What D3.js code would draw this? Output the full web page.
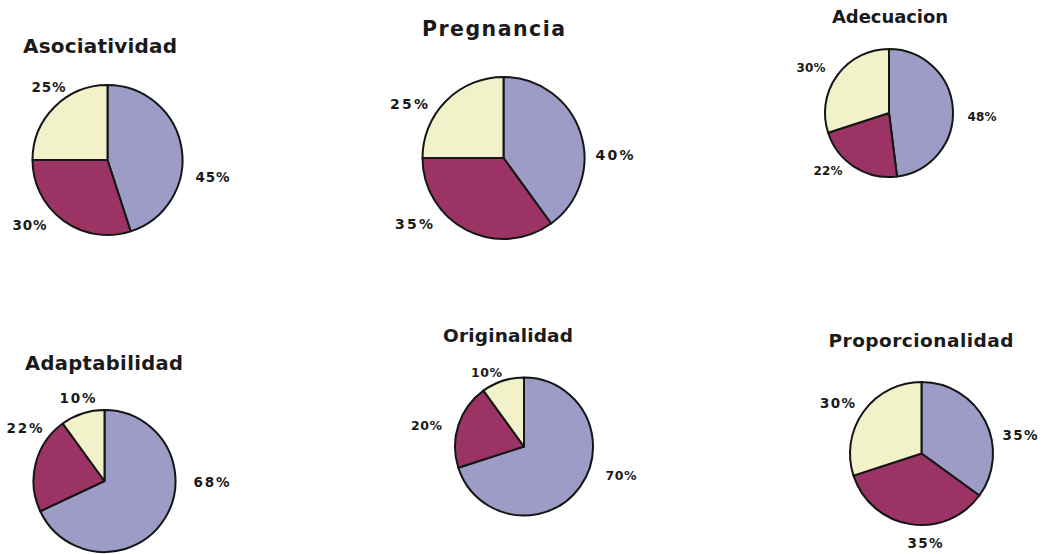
<!DOCTYPE html>
<html>
<head>
<meta charset="utf-8">
<script src="https://cdn.jsdelivr.net/npm/d3@7"></script>
<style>
  body { margin: 0; background: #fff; }
  text { font-family: "DejaVu Sans", "Open Sans", sans-serif; font-weight: 700; fill: #1a1a1a; }
</style>
</head>
<body>
<div id="chart"></div>
<script>
var svgWidth = 1043;
var svgHeight = 554;

// chart data
var titles = ["Asociatividad", "Pregnancia", "Adecuacion", "Adaptabilidad", "Originalidad", "Proporcionalidad"];
var blueValues = [45, 40, 48, 68, 70, 35];   // first slice, clockwise from 12 o'clock
var maroonValues = [30, 35, 22, 22, 20, 35];
var yellowValues = [25, 25, 30, 10, 10, 30];
var sliceColors = ["#9c9cc6", "#9b3365", "#f2f2ca"];

// layout for each small pie: centre, radius, title place/size/width, label size/width, label offsets (blue, maroon, yellow)
var layout = [
    { cx: 107.5, cy: 160, r: 75, tx: 100, ty: 53, ts: 20, tw: 154, ls: 13.5, lw: 34,
      lab: [[105, 17], [-78, 65], [-59, -73]] },
    { cx: 503.5, cy: 158, r: 81, tx: 493.5, ty: 36, ts: 20.5, tw: 143, ls: 14, lw: 38,
      lab: [[111, -3], [-89.5, 65.5], [-94.5, -54]] },
    { cx: 889, cy: 113, r: 64, tx: 890, ty: 23, ts: 18, tw: 116, ls: 12, lw: 29,
      lab: [[93, 4], [-61, 58], [-78, -45]] },
    { cx: 104.5, cy: 481, r: 71, tx: 104, ty: 370, ts: 19.5, tw: 158, ls: 13.5, lw: 36,
      lab: [[107, 1], [-80, -53], [-27, -83]] },
    { cx: 524, cy: 446.5, r: 69, tx: 508, ty: 342, ts: 18.5, tw: 130, ls: 12.5, lw: 31,
      lab: [[97, 28.5], [-97.5, -21.5], [-37.5, -74]] },
    { cx: 921.5, cy: 453.5, r: 71.5, tx: 921, ty: 347, ts: 18.5, tw: 185, ls: 13.5, lw: 35,
      lab: [[98.5, -18.5], [3.5, 90], [-84, -50.5]] }
];

var svg = d3.select("#chart")
    .append("svg")
    .attr("width", svgWidth)
    .attr("height", svgHeight);

var pie = d3.pie().sort(null).value(d => d); //keep the order blue, maroon, yellow

titles.forEach(function(title, i) {
    var L = layout[i];
    var values = [blueValues[i], maroonValues[i], yellowValues[i]];
    var arcs = pie(values);
    var arc = d3.arc().innerRadius(0).outerRadius(L.r);

    svg.append("text")
        .attr("x", L.tx)
        .attr("y", L.ty)
        .attr("text-anchor", "middle")
        .attr("textLength", L.tw)
        .attr("lengthAdjust", "spacing")
        .style("font-size", L.ts + "px")
        .text(title);

    var g = svg.append("g")
        .attr("transform", `translate(${L.cx}, ${L.cy})`);

    g.selectAll("path")
        .data(arcs)
        .enter()
        .append("path")
        .attr("d", arc)
        .attr("fill", (d, j) => sliceColors[j])
        .attr("stroke", "#151515")
        .attr("stroke-width", 2)
        .attr("stroke-linejoin", "round");

    g.selectAll("text")
        .data(arcs)
        .enter()
        .append("text")
        .attr("x", (d, j) => L.lab[j][0])
        .attr("y", (d, j) => L.lab[j][1])
        .attr("dy", "0.36em")
        .attr("text-anchor", "middle")
        .attr("textLength", L.lw)
        .attr("lengthAdjust", "spacing")
        .style("font-size", L.ls + "px")
        .text(d => d.data + "%");
});
</script>
</body>
</html>
